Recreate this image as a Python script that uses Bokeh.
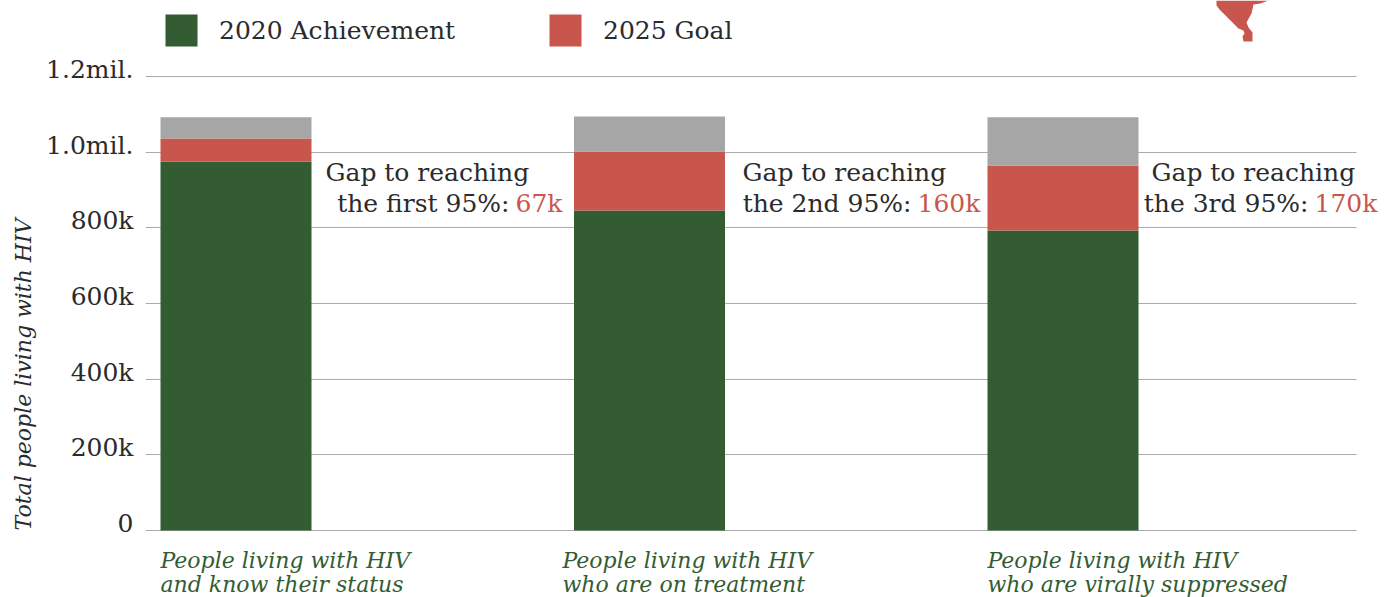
from bokeh.plotting import figure
from bokeh.models import Range1d, Legend, LegendItem, Label, LinearAxis, FixedTicker, Title
from bokeh.embed import file_html
from bokeh.resources import INLINE

# ---- data -------------------------------------------------------------
stages = [0, 1, 2]
stage_labels = ["People  living with HIV\nand know their status",
                "People living with HIV\nwho are on treatment",
                "People living with HIV\nwho are virally suppressed"]
achievement = [975000, 846000, 793000]
goal_gap = [61000, 156000, 172000]
remainder = [56000, 92000, 127000]
y_ticks = [0, 200000, 400000, 600000, 800000, 1000000, 1200000]
y_tick_labels = ["0", "200k", "400k", "600k", "800k", "1.0mil.", "1.2mil."]
gap_lines = ["the first 95%:", "the 2nd 95%:", "the 3rd 95%:"]
gap_values = ["67k", "160k", "170k"]

GREEN, RED, GREY = "#335c33", "#c9564c", "#a6a6a6"
INK = "#2b2b2b"
FONT = "DejaVu Serif"
SIZE = "25px"

W, H = 1386, 597
L, R, T, B = 145, 1356, 76, 530   # plot box in pixels
PX_PER_STAGE = 413.5
C0 = 235.5
PX_PER_VAL = (B - T) / 1200000


def dx(px):
    return (px - C0) / PX_PER_STAGE


def dy(py):
    return (B - py) / PX_PER_VAL


p = figure(width=W, height=H, output_backend="svg", toolbar_location=None,
           x_range=Range1d(dx(L), dx(W)), y_range=Range1d(dy(H), dy(0)),
           min_border_left=L, min_border_right=0, min_border_top=0, min_border_bottom=0,
           outline_line_color=None, x_axis_location=None, y_axis_location=None)

src = dict(stage=stages, achievement=achievement, goal_gap=goal_gap, remainder=remainder)
rs = p.vbar_stack(["achievement", "goal_gap", "remainder"], x="stage", width=151 / PX_PER_STAGE,
                  color=[GREEN, RED, GREY], source=src, line_width=0)

# tick labels sit above their rules in the reference
lift = round(7 / PX_PER_VAL)
ax = LinearAxis(ticker=FixedTicker(ticks=[t + lift for t in y_ticks]),
                major_label_overrides={t + lift: s for t, s in zip(y_ticks, y_tick_labels)},
                major_label_text_font=FONT, major_label_text_font_size=SIZE,
                major_label_text_color=INK, major_tick_out=0, major_tick_in=0,
                major_label_standoff=12, axis_line_color=None, major_tick_line_color=None,
                minor_tick_line_color=None)
p.add_layout(ax, "left")
p.add_layout(Title(text="Total people living with HIV", align="left", offset=H - B,
                   text_font=FONT, text_font_style="italic", text_font_size="22px",
                   text_color=INK, standoff=15), "left")

p.xgrid.visible = False
p.ygrid.ticker = FixedTicker(ticks=y_ticks)
p.ygrid.grid_line_color = "#ababab"
p.ygrid.grid_line_width = 1
p.ygrid.level = "underlay"
p.ygrid.cross_bounds = (dx(L), dx(R))


def lbl(x, y, text, **kw):
    """x in pixels; y is the pixel row the text is placed at."""
    kw.setdefault("text_font", FONT)
    kw.setdefault("text_font_size", SIZE)
    kw.setdefault("text_color", INK)
    p.add_layout(Label(x=x - L, y=H - y, x_units="screen", y_units="screen",
                       text_baseline="alphabetic", text=text, **kw))


# gap notes
for gx, sep, line, val in zip([325, 742, 1151], [509, 911, 1308], gap_lines, gap_values):
    lbl(gx, 172, "Gap to reaching")
    lbl(sep, 203, line, text_align="right")
    lbl(sep + 6, 203, val, text_color=RED)

# category captions
for cx, text in zip([160, 562, 987], stage_labels):
    a, b = text.split("\n")
    for yy, t in zip([560, 584], [a, b]):
        lbl(cx, yy, t, text_color=GREEN, text_font_style="italic", text_font_size="22px")

# legends
for r, name, x in zip(rs[:2], ["2020 Achievement", "2025 Goal"], [165, 549]):
    leg = Legend(items=[LegendItem(label=name, renderers=[r])], location=(x - 4 - L, H - 50),
                 glyph_width=40, glyph_height=40, padding=0, margin=0, label_standoff=18,
                 label_text_font=FONT, label_text_font_size=SIZE, label_text_color=INK,
                 border_line_color=None, background_fill_alpha=0)
    p.add_layout(leg)

# map fragment in the top-right corner
map_x = [1216, 1216, 1219, 1224, 1232, 1238, 1243, 1244, 1242, 1243, 1252, 1252, 1248, 1246, 1251, 1253, 1260, 1268, 1216]
map_y = [0, 5, 9, 14, 22, 28, 30, 33, 36, 41, 41, 32, 27, 22, 13, 4, 3, 0, 0]
p.patch([dx(x) for x in map_x], [dy(y) for y in map_y], color=RED, line_width=0)

open("out.html", "w").write(file_html(p, INLINE))
